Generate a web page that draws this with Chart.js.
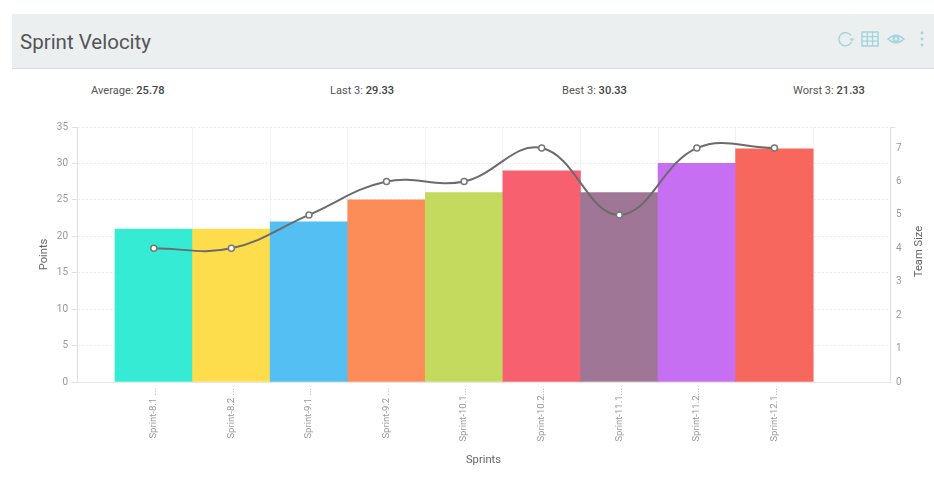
<!DOCTYPE html>
<html>
<head>
<meta charset="utf-8">
<title>Sprint Velocity</title>
<script src="https://cdn.jsdelivr.net/npm/chart.js@4"></script>
<style>
  html, body { margin: 0; padding: 0; background: #fff; width: 934px; height: 486px; overflow: hidden; font-family: Roboto, sans-serif; }
  #header { position: absolute; left: 12px; top: 14px; width: 922px; height: 54px; background: #ebeff0; border-bottom: 1px solid #d9dcdd; }
  #header h1 { position: absolute; left: 8px; top: 14px; margin: 0; font-size: 20.5px; line-height: 28px; font-weight: 400; color: #555; }
  #icons { position: absolute; left: 824px; top: 14px; }
  .stat { position: absolute; top: 83px; font-size: 11.1px; line-height: 15px; color: #555; white-space: nowrap; }
  .stat b { font-weight: 500; color: #444; }
  canvas { position: absolute; left: 0; top: 0; }
</style>
</head>
<body>
<div id="header">
  <h1>Sprint Velocity</h1>
  <svg id="icons" width="96" height="24" viewBox="0 0 96 24" fill="none" stroke="#a3d6da" stroke-width="2">
    <path d="M15 7.5 A6.6 6.6 0 1 0 15.5 14" stroke-width="1.5"/>
    <path d="M13.5 10.5 h5 l-2.5 3z" fill="#a3d6da" stroke="none"/>
    <rect x="26" y="4" width="16" height="14" stroke-width="1.5"/>
    <path d="M26 8.6h16M26 13.2h16M31.3 4v14M36.6 4v14" stroke-width="1.3"/>
    <path d="M52 11 Q60 3.5 68 11 Q60 18.5 52 11z" stroke-width="1.5"/>
    <circle cx="60" cy="11" r="2.6"/>
    <circle cx="86" cy="5" r="1.4" fill="#a3d6da" stroke="none"/>
    <circle cx="86" cy="11" r="1.4" fill="#a3d6da" stroke="none"/>
    <circle cx="86" cy="17" r="1.4" fill="#a3d6da" stroke="none"/>
  </svg>
</div>
<div class="stat" style="left:91px">Average: <b>25.78</b></div>
<div class="stat" style="left:330px">Last 3: <b>29.33</b></div>
<div class="stat" style="left:562px">Best 3: <b>30.33</b></div>
<div class="stat" style="left:793px">Worst 3: <b>21.33</b></div>
<canvas id="velocityChart" width="934" height="486"></canvas>
<script>
// Chart values
var sprints = ['Sprint-8.1 ...', 'Sprint-8.2 ...', 'Sprint-9.1 ...', 'Sprint-9.2 ...', 'Sprint-10.1...', 'Sprint-10.2...', 'Sprint-11.1...', 'Sprint-11.2...', 'Sprint-12.1...'];
var points = [21, 21, 22, 25, 26, 29, 26, 30, 32];
var teamSize = [4, 4, 5, 6, 6, 7, 5, 7, 7];
var barColors = ['#36ebd3', '#fedd4d', '#53bff2', '#fd8d58', '#c3da5f', '#f7606f', '#9f7696', '#c66ff2', '#f8675e'];

// x axis is linear because the bars sit off-centre in the plot area
function toXY(values) {
    return values.map(function (v, i) { return { x: i, y: v }; });
}

// Chart.js always turns a right axis title top-to-bottom, this one reads upwards
var teamSizeTitle = {
    id: 'teamSizeTitle',
    afterDraw: function (chart) {
        var ctx = chart.ctx;
        ctx.save();
        ctx.translate(919, chart.scales.y1.top + chart.scales.y1.height / 2 - 3);
        ctx.rotate(-Math.PI / 2);
        ctx.font = '11.2px Roboto';
        ctx.fillStyle = '#666';
        ctx.textAlign = 'center';
        ctx.textBaseline = 'middle';
        ctx.fillText('Team Size', 0, 0);
        ctx.restore();
    }
};

new Chart(document.getElementById('velocityChart').getContext('2d'), {
    data: {
        datasets: [{
            type: 'line',
            label: 'Team Size',
            data: toXY(teamSize),
            yAxisID: 'y1',
            borderColor: '#6b6b6b',
            borderWidth: 2,
            tension: 0.4,
            pointBackgroundColor: '#fff',
            pointBorderColor: '#777',
            pointBorderWidth: 1.5,
            pointRadius: 3,
            order: 1
        }, {
            type: 'bar',
            label: 'Points',
            data: toXY(points),
            yAxisID: 'y',
            backgroundColor: barColors,
            barPercentage: 1,
            categoryPercentage: 1,
            order: 2
        }]
    },
    options: {
        responsive: false,
        animation: false,
        layout: { padding: { top: 127, left: 37 } },
        plugins: { legend: { display: false }, tooltip: { enabled: false } },
        scales: {
            x: {
                type: 'linear',
                offset: false,
                min: -0.99,
                max: 9.49,
                afterBuildTicks: function (scale) {
                    scale.ticks = sprints.map(function (s, i) { return { value: i }; });
                },
                afterFit: function (scale) { scale.height = 104; },
                ticks: {
                    autoSkip: false,
                    minRotation: 90,
                    maxRotation: 90,
                    padding: 6,
                    font: { family: 'Roboto', size: 9.5 },
                    color: '#999',
                    callback: function (value) { return sprints[value]; }
                },
                grid: {
                    offset: true,
                    drawTicks: false,
                    color: function (ctx) { return ctx.index === 0 ? 'transparent' : '#f2f2f2'; }
                },
                border: { color: '#e6e6e6' },
                title: { display: true, text: 'Sprints', color: '#666', font: { family: 'Roboto', size: 11.2 }, padding: { top: 0, bottom: 19 } }
            },
            y: {
                position: 'left',
                min: 0,
                max: 35,
                afterFit: function (scale) { scale.width = 40; },
                ticks: { stepSize: 5, padding: 4, color: '#999', font: { family: 'Roboto', size: 10 } },
                grid: { color: '#eeeeee', tickColor: '#e0e0e0', tickLength: 5 },
                border: { color: '#e0e0e0', dash: [2, 2] },
                title: { display: true, text: 'Points', color: '#666', font: { family: 'Roboto', size: 11.2 }, padding: 0 }
            },
            y1: {
                position: 'right',
                min: 0,
                max: 7.63,
                afterFit: function (scale) { scale.width = 44; },
                ticks: {
                    stepSize: 1,
                    padding: 1,
                    color: '#999',
                    font: { family: 'Roboto', size: 10 },
                    callback: function (value) { return Number.isInteger(value) ? value : ''; }
                },
                grid: {
                    drawOnChartArea: false,
                    tickLength: 5,
                    tickColor: function (ctx) { return Number.isInteger(ctx.tick.value) ? 'transparent' : '#e0e0e0'; }
                },
                border: { color: '#e0e0e0' }
            }
        }
    },
    plugins: [teamSizeTitle]
});
</script>
</body>
</html>
